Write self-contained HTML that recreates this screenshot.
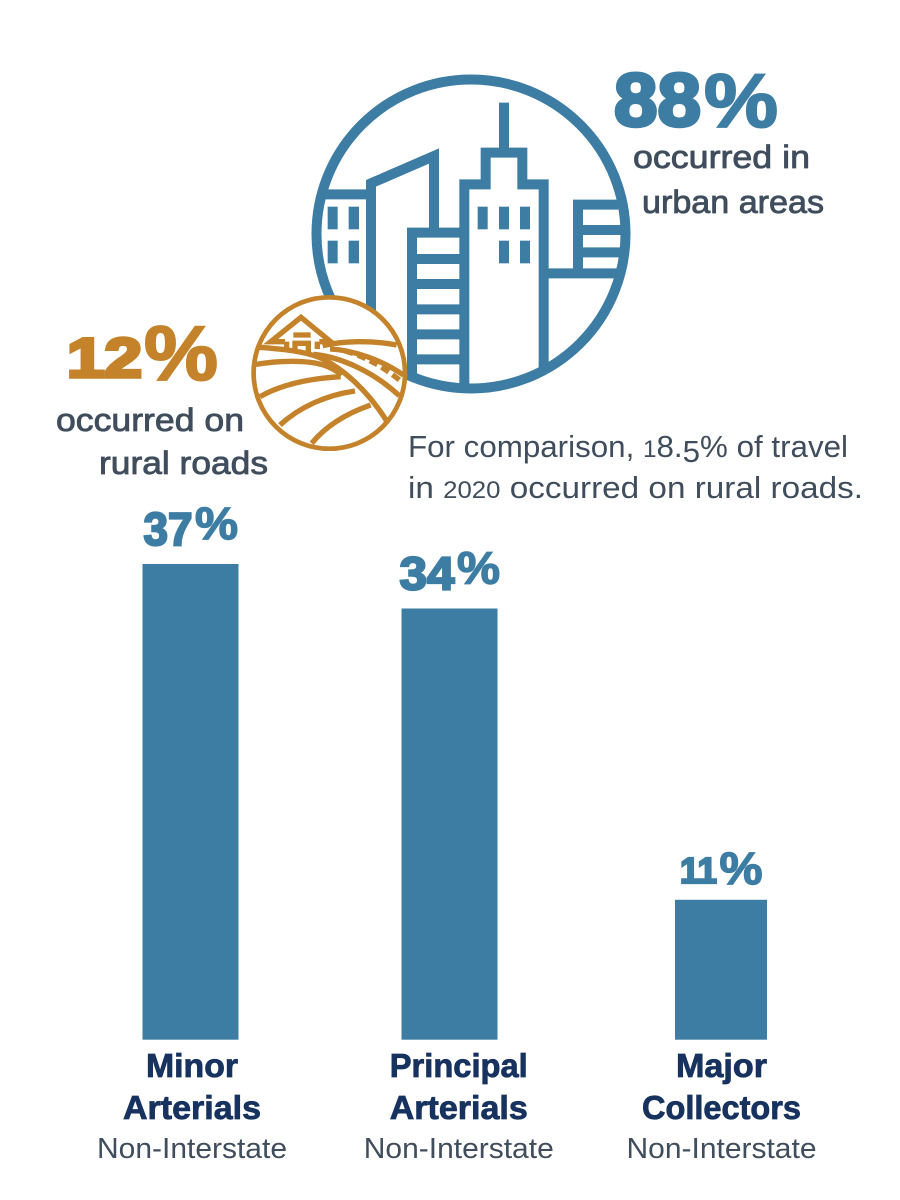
<!DOCTYPE html>
<html lang="en">
<head>
<meta charset="utf-8">
<title>Share of travel by road type</title>
<style>
  html, body { margin: 0; padding: 0; background: #ffffff; }
  svg { display: block; }
  text { font-family: "Liberation Sans", sans-serif; }
  .heavy-blue { fill: #3d7da3; stroke: #3d7da3; font-weight: 700; }
  .heavy-gold { fill: #c4832b; stroke: #c4832b; font-weight: 700; }
  .medium { fill: #3f4d5c; stroke: #3f4d5c; stroke-width: .8; font-size: 32px; }
  .note { fill: #3f4d5c; font-size: 31px; }
  .cat { fill: #17325f; stroke: #17325f; stroke-width: .8; font-size: 33px; font-weight: 700; text-anchor: middle; }
  .sub { fill: #3f4d5c; font-size: 28.5px; text-anchor: middle; }
  .city line, .city path, .city circle { fill: none; stroke: #3d7da3; stroke-width: 30; }
  .city rect { fill: #3d7da3; }
  .rural path { fill: none; stroke: #c4832b; stroke-width: 16; }
</style>
</head>
<body>
<svg id="chart" xmlns="http://www.w3.org/2000/svg" width="900" height="1200" viewBox="0 0 900 1200">
  <rect width="900" height="1200" fill="#ffffff"/>

  <g class="city" transform="translate(300 60) scale(.33333)">
    <circle cx="513" cy="522" r="463.5"/>
    <path d="M75 403H213M213 760V370L402 288V505"/>
    <path d="M336 950V518H493M336 597H493M336 672H493M336 748H493M336 823H493M336 898H493"/>
    <path d="M493 985V373H557V278H667V373H731V925M612 128V278"/>
    <path d="M731 640H950M834 640V434H955M834 510H965M834 577H965"/>
    <g>
      <rect x="83" y="440" width="30" height="68"/><rect x="146" y="440" width="31" height="68"/>
      <rect x="83" y="542" width="30" height="68"/><rect x="146" y="542" width="31" height="68"/>
      <rect x="533" y="440" width="30" height="68"/><rect x="597" y="440" width="30" height="68"/><rect x="660" y="440" width="30" height="68"/>
      <rect x="597" y="542" width="30" height="68"/><rect x="660" y="542" width="30" height="68"/>
    </g>
  </g>

  <g>
    <circle cx="329.3" cy="373" r="75.7" fill="#ffffff" stroke="#c4832b" stroke-width="4.7"/>
    <g class="rural" transform="translate(240 285) scale(.33333)">
      <path d="M135 170H92L183 97L272 170H238"/>
      <path d="M140 170V198M232 170V192M165 205V175H205V205M160 150H212"/>
      <path d="M58 187C125 192 190 198 240 218C310 250 385 320 440 408"/>
      <path d="M48 238C120 226 200 225 250 240C275 248 290 258 305 270"/>
      <path d="M60 335C130 295 215 280 302 275"/>
      <path d="M120 420C180 365 260 330 345 318"/>
      <path d="M215 475C260 420 320 385 392 360"/>
      <path d="M248 182C310 168 390 165 470 180"/>
      <path d="M220 208C300 215 400 260 478 332"/>
      <path d="M270 192C340 195 425 225 490 270" stroke-width="8"/>
      <path d="M315 198C370 212 430 245 482 288" stroke-width="12" stroke-dasharray="26 14"/>
    </g>
  </g>

  <g>
    <text class="heavy-blue" x="614" y="126" font-size="75" stroke-width="3.5" textLength="87" lengthAdjust="spacingAndGlyphs">88</text>
    <text class="heavy-blue" x="704" y="127" font-size="76" stroke-width="2" textLength="74" lengthAdjust="spacingAndGlyphs">%</text>
    <text class="medium" x="633" y="168" textLength="177" lengthAdjust="spacingAndGlyphs">occurred in</text>
    <text class="medium" x="642" y="213" textLength="182" lengthAdjust="spacingAndGlyphs">urban areas</text>
  </g>

  <g>
    <text class="heavy-gold" x="67" y="377" font-size="56" stroke-width="3.6" textLength="75" lengthAdjust="spacingAndGlyphs">12</text>
    <text class="heavy-gold" x="144" y="380" font-size="77" stroke-width="2" textLength="74" lengthAdjust="spacingAndGlyphs">%</text>
    <text class="medium" x="56" y="431" textLength="188" lengthAdjust="spacingAndGlyphs">occurred on</text>
    <text class="medium" x="99" y="474" textLength="169" lengthAdjust="spacingAndGlyphs">rural roads</text>
  </g>

  <g>
    <text class="note" x="408" y="457" textLength="440" lengthAdjust="spacingAndGlyphs">For comparison, <tspan font-size="24">1</tspan>8.<tspan dy="5">5</tspan><tspan dy="-5">%</tspan> of travel</text>
    <text class="note" x="408" y="498" textLength="455" lengthAdjust="spacingAndGlyphs">in <tspan font-size="24">2020</tspan> occurred on rural roads.</text>
  </g>

  <g id="bars"></g>
  <g id="cats"></g>
</svg>

<script>
// Chart data
const categories = [["Minor", "Arterials"], ["Principal", "Arterials"], ["Major", "Collectors"]];
const subLabels = ["Non-Interstate", "Non-Interstate", "Non-Interstate"];
const shareValues = [37.4, 33.9, 11.0];

// Axis functions
const baselineY = 1039.7;
function yScale(v) { return baselineY - v * 12.72; }
function barCentre(i) { return 190.5 + 265.25 * i + (i === 1 ? -6.25 : 0); }
function barWidth(i) { return i === 2 ? 92 : 96; }
function labelCentre(i) { return 192 + 264.75 * i + (i === 1 ? 2 : 0); }

// Typographic fitting (the reference face is wider than Liberation)
const fitWidth = { Minor: 92, Arterials: 138, Principal: 138, Major: 91, Collectors: 159, "Non-Interstate": 190 };
const digitWidth = { "1": 18.5, "3": 27, "4": 28, "7": 22 };

const NS = "http://www.w3.org/2000/svg";
const barsG = document.getElementById("bars");
const catsG = document.getElementById("cats");

function makeText(parent, cls, x, y, str) {
  const t = document.createElementNS(NS, "text");
  t.setAttribute("class", cls);
  t.setAttribute("x", x);
  t.setAttribute("y", y);
  t.textContent = str;
  parent.appendChild(t);
  return t;
}
function fit(t, w) {
  t.setAttribute("textLength", w);
  t.setAttribute("lengthAdjust", "spacingAndGlyphs");
}

shareValues.forEach(function (v, i) {
  const top = yScale(v);
  const w = barWidth(i);
  const left = barCentre(i) - w / 2;

  const bar = document.createElementNS(NS, "rect");
  
  
  bar.setAttribute("x", left);
  bar.setAttribute("y", top);
  bar.setAttribute("width", w);
  bar.setAttribute("height", baselineY - top);
  bar.setAttribute("fill", "#3d7da3");
  barsG.appendChild(bar);

  // Old-style numerals: some digits drop below the baseline
  const digits = String(Math.round(v));
  const drops = /[34579]/.test(digits);
  const labelBase = top - (drops ? 26 : 17);
  const digitsW = digits.split("").reduce(function (s, d) { return s + (digitWidth[d] || 26); }, 0);
  const labelLeft = barCentre(i) - (digitsW + 45) / 2;

  const num = makeText(barsG, "heavy-blue", labelLeft, labelBase + (drops ? 7 : 0), digits);
  
  
  num.setAttribute("font-size", drops ? 46 : 36);
  num.setAttribute("stroke-width", 2.2);
  fit(num, digitsW);

  const pct = makeText(barsG, "heavy-blue", labelLeft + digitsW + 2.5, labelBase + 1, "%");
  
  
  pct.setAttribute("font-size", 45);
  pct.setAttribute("stroke-width", 1.4);
  fit(pct, 43);

  const cx = labelCentre(i);
  const line1 = makeText(catsG, "cat", cx, 1077, categories[i][0]);
  
  
  if (fitWidth[categories[i][0]]) fit(line1, fitWidth[categories[i][0]]);

  const line2 = makeText(catsG, "cat", cx, 1119, categories[i][1]);
  
  
  if (fitWidth[categories[i][1]]) fit(line2, fitWidth[categories[i][1]]);

  const sub = makeText(catsG, "sub", cx, 1158, subLabels[i]);
  
  
  if (fitWidth[subLabels[i]]) fit(sub, fitWidth[subLabels[i]]);
});
</script>
</body>
</html>
